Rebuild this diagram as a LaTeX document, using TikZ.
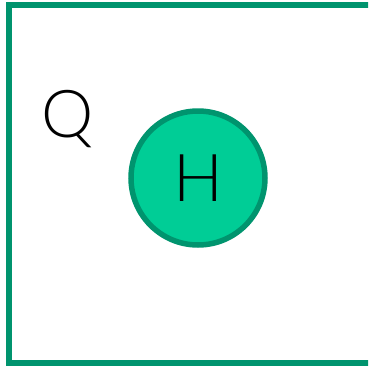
\documentclass[tikz,border=0pt]{standalone}
\usepackage{fontspec}
\setmainfont{Lato Light}
\definecolor{hborder}{RGB}{0,148,110}
\definecolor{hfill}{RGB}{0,205,150}
\begin{document}
\begin{tikzpicture}[x=1pt,y=-1pt,set/.style={draw=hborder,line width=5.5pt},elem/.style={circle,draw=hborder,fill=hfill,line width=5.5pt,minimum size=134pt,inner sep=0pt},lbl/.style={font=\fontsize{66}{66}\selectfont}]
                \clip (0,0) rectangle (368,370);
                \draw[set] (9,5) rectangle (390,363); %tập Q
                \node[lbl] (q) at (68,119) {Q};
                \node[elem,lbl] (h) at (198,178) {H};
            \end{tikzpicture}
\end{document}
